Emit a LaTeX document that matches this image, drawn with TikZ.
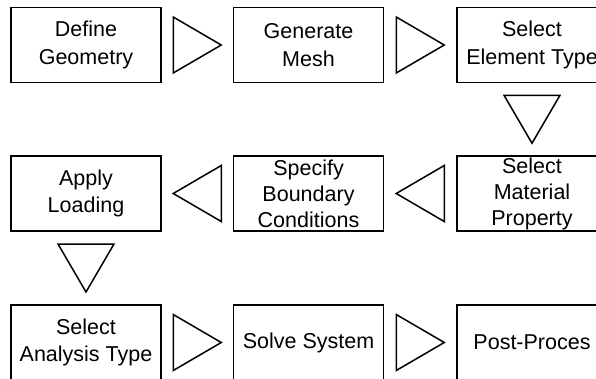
\documentclass[tikz,border=0pt]{standalone}
\usepackage{fontspec}
\setmainfont{Liberation Sans}
\usetikzlibrary{calc}
\begin{document}
\begin{tikzpicture}[x=1pt,y=-1pt,
  stepbox/.style={draw, line width=1.5pt, minimum width=150pt, minimum height=75pt,
    inner sep=0pt, align=center, font=\fontsize{21.5pt}{26pt}\selectfont},
  twoline/.style={font=\fontsize{21.5pt}{27.5pt}\selectfont},
  tri/.style={draw, line width=1.5pt, line join=miter},
  rtri/.pic={\draw[tri] (-24,-28) -- (24,0) -- (-24,28) -- cycle;},
  ltri/.pic={\draw[tri] (24,-28) -- (-24,0) -- (24,28) -- cycle;},
  dtri/.pic={\draw[tri] (-28,-24) -- (0,24) -- (28,-24) -- cycle;}]
  \useasboundingbox (0,0) rectangle (596,378);
  \clip (0,0) rectangle (596,378);

  % first row
  \node[stepbox, twoline] (def)  at (86,45)    {Define\\Geometry};
  \node[stepbox, twoline] (mesh) at (308.5,45) {Generate\\Mesh};
  \node[stepbox, twoline] (elem) at (532,45)   {Select\\Element Type};

  % second row
  \node[stepbox, twoline] (load) at (86,193.5) {Apply\\Loading};
  \node[stepbox] (bc)   at (308.5,193.5) {Specify\\Boundary\\Conditions};
  \node[stepbox] (mat)  at (532,193.5)   {Select\\Material\\Property};

  % third row
  \node[stepbox, twoline] (anal) at (86,342.5) {Select\\Analysis Type};
  \node[stepbox] (solve) at (308.5,342.5) {Solve System};
  \node[stepbox] (post)  at (532,342.5)   {Post-Proces};

  % flow markers between the steps
  \pic at ($(def.east)!0.5!(mesh.west)$) {rtri};
  \pic at ($(mesh.east)!0.5!(elem.west)$) {rtri};
  \pic at ($(elem.south)!0.5!(mat.north)$) {dtri};
  \pic at ($(mat.west)!0.5!(bc.east)$) {ltri};
  \pic at ($(bc.west)!0.5!(load.east)$) {ltri};
  \pic at ($(load.south)!0.5!(anal.north)$) {dtri};
  \pic at ($(anal.east)!0.5!(solve.west)$) {rtri};
  \pic at ($(solve.east)!0.5!(post.west)$) {rtri};
\end{tikzpicture}
\end{document}
